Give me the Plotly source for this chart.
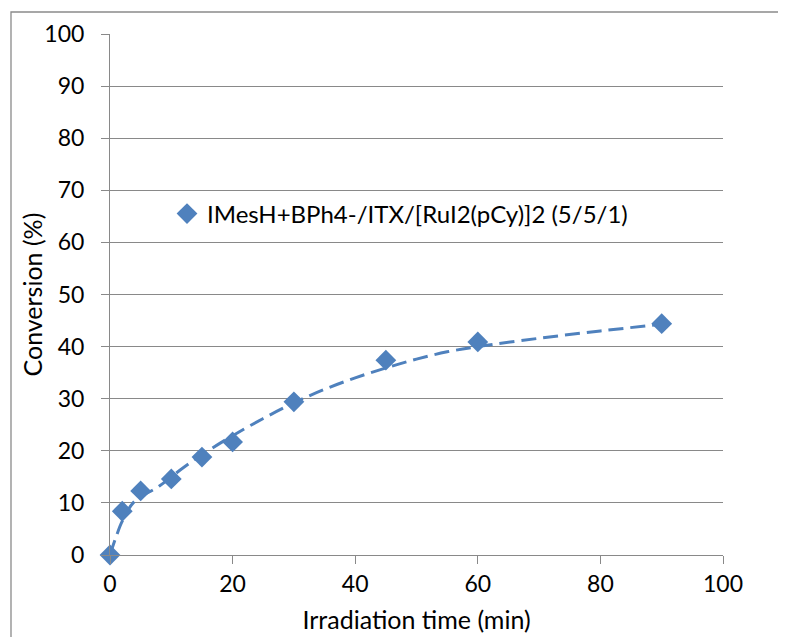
import plotly.graph_objects as go

# Measured data
time_min = [0, 2, 5, 10, 15, 20, 30, 45, 60, 90]
conversion = [0, 8.4, 12.3, 14.6, 18.8, 21.7, 29.4, 37.4, 40.9, 44.4]

# Trend line
trend_x = [0, 1, 2, 4, 8, 12, 16, 20, 25, 30, 35, 40, 45, 50, 55, 60, 70, 80, 90]
trend_y = [0, 3.5, 6.5, 10.3, 13.2, 16.8, 20.0, 22.9, 26.2, 29.2, 31.8, 34.0, 35.9, 37.6, 39.0, 40.0, 41.6, 43.0, 44.3]

series_name = "IMesH+BPh4-/ITX/[RuI2(pCy)]2 (5/5/1)"
x_ticks = [0, 20, 40, 60, 80, 100]
y_ticks = [0, 10, 20, 30, 40, 50, 60, 70, 80, 90, 100]

blue = "#4F81BD"
grid = "#898989"
FONT = "Lato"

# page body has an 8px margin, so the figure is sized/placed to compensate
W, H = 778, 629
L, T = 102, 26
PW, PH = 613, 521

fig = go.Figure()
fig.add_trace(go.Scatter(
    x=trend_x, y=trend_y, mode="lines", line_shape="spline",
    line=dict(color=blue, width=3, dash="15px,7px"),
    showlegend=False, hoverinfo="skip", cliponaxis=False,
))
fig.add_trace(go.Scatter(
    x=time_min, y=conversion, mode="markers", name=series_name,
    marker=dict(symbol="diamond", size=16, color=blue),
    cliponaxis=False,
))

fig.update_layout(
    width=W, height=H,
    margin=dict(l=L, r=W - L - PW, t=T, b=H - T - PH, autoexpand=False),
    paper_bgcolor="white", plot_bgcolor="white",
    font=dict(family=FONT, size=23, color="black"),
    legend=dict(x=0.093, y=(555 - 214) / PH, xanchor="left", yanchor="middle",
                bgcolor="rgba(0,0,0,0)", font=dict(size=24), borderwidth=0),
    shapes=[dict(type="rect", xref="paper", yref="paper",
                 x0=(11 - 110) / PW, x1=1.3, y0=-0.3, y1=(555 - 12) / PH,
                 line=dict(color="#8a8a8a", width=1.3), layer="below")],
    annotations=[dict(text="Conversion (%)", textangle=-90, showarrow=False,
                      xref="paper", yref="paper", x=(31 - 110) / PW, y=0.5,
                      xanchor="center", yanchor="middle", font=dict(size=25))],
)
fig.update_xaxes(
    range=[0, 100], tickvals=x_ticks, showgrid=False, zeroline=False,
    showline=True, linecolor=grid, linewidth=1, automargin=False,
    ticks="outside", ticklen=8, tickcolor=grid, tickwidth=1,
    title=dict(text="Irradiation time (min)", font=dict(size=25), standoff=15),
)
fig.update_yaxes(
    range=[0, 100], tickvals=y_ticks, showgrid=True, gridcolor=grid, gridwidth=1,
    zeroline=False, showline=True, linecolor=grid, linewidth=1, automargin=False,
    ticks="outside", ticklen=8, tickcolor=grid, tickwidth=1,
    ticklabelstandoff=12,
)

fig.write_html("out.html")
